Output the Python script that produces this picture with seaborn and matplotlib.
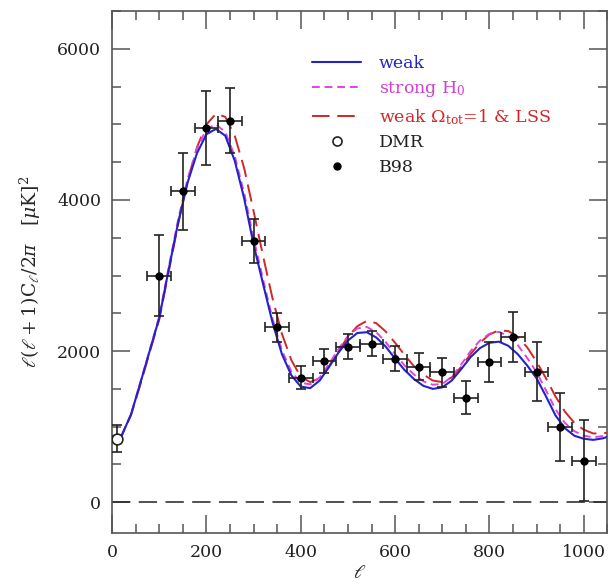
import matplotlib
matplotlib.use("Agg")
import matplotlib.pyplot as plt
from matplotlib.ticker import MultipleLocator
from matplotlib.lines import Line2D
import pandas as pd
import seaborn as sns

# Model power spectra, l(l+1)C_l/2pi in muK^2
ell_model = [2, 10, 20, 40, 60, 80, 100, 120, 140, 160, 180, 200, 220, 240, 260, 280, 300,
             320, 340, 360, 380, 400, 420, 440, 460, 480, 500, 520, 540, 560, 580, 600,
             620, 640, 660, 680, 700, 720, 740, 760, 780, 800, 820, 840, 860, 880, 900,
             920, 940, 960, 980, 1000, 1020, 1040, 1050]
weak = [880, 840, 880, 1160, 1580, 2010, 2440, 3080, 3700, 4230, 4620, 4870, 4940, 4850,
        4520, 4020, 3410, 2890, 2380, 1960, 1680, 1530, 1510, 1610, 1790, 1980, 2140, 2240,
        2250, 2180, 2060, 1900, 1750, 1630, 1540, 1500, 1520, 1610, 1760, 1920, 2040, 2110,
        2125, 2070, 1960, 1810, 1640, 1400, 1150, 980, 880, 840, 825, 845, 865]
strong_h0 = [880, 840, 880, 1165, 1590, 2020, 2460, 3110, 3740, 4280, 4680, 4940, 5000,
             4900, 4580, 4090, 3490, 2950, 2430, 2010, 1730, 1580, 1560, 1650, 1830, 2030,
             2200, 2300, 2320, 2250, 2120, 1960, 1810, 1690, 1600, 1555, 1565, 1660, 1820,
             2000, 2140, 2230, 2255, 2200, 2080, 1910, 1720, 1480, 1230, 1050, 940, 880, 860,
             875, 890]
weak_flat_lss = [880, 840, 875, 1150, 1560, 1990, 2420, 3050, 3680, 4250, 4700, 5000, 5140,
                 5100, 4850, 4420, 3850, 3260, 2700, 2230, 1880, 1660, 1590, 1640, 1800,
                 2000, 2190, 2330, 2400, 2370, 2260, 2110, 1950, 1800, 1690, 1610, 1590,
                 1650, 1790, 1960, 2110, 2220, 2275, 2265, 2190, 2050, 1860, 1640, 1400,
                 1200, 1050, 960, 910, 910, 920]

# COBE DMR
dmr_ell = [10]
dmr_val = [840]
dmr_err = [180]

# BOOMERanG 98 band powers
b98_ell = [100, 150, 200, 250, 300, 350, 400, 450, 500, 550, 600, 650, 700, 750, 800,
           850, 900, 950, 1000]
b98_val = [3000, 4115, 4950, 5050, 3460, 2315, 1650, 1870, 2060, 2100, 1900, 1795, 1720,
           1385, 1855, 2185, 1725, 995, 550]
b98_err = [530, 510, 490, 430, 290, 195, 155, 155, 170, 170, 168, 180, 190, 215, 270,
           335, 390, 450, 540]
b98_half_width = 25

sns.set_theme(style="ticks")
plt.rcParams["font.family"] = ["DejaVu Serif", "DejaVu Sans"]
plt.rcParams["mathtext.fontset"] = "dejavuserif"

blue = "#2323c8"
magenta = "#e044e0"
red = "#d02828"
frame = "#555555"

fig = plt.figure(figsize=(6.11, 5.84), dpi=100)
ax = fig.add_axes([0.1835, 0.087, 0.8105, 0.894])

models = pd.DataFrame({"ell": ell_model, "weak": weak, "strong": strong_h0,
                       "flat": weak_flat_lss})

ax.axhline(0, color="#222222", lw=1.1, dashes=(12, 5.5), zorder=1)

sns.lineplot(data=models, x="ell", y="flat", ax=ax, color=red, lw=1.4, zorder=3)
ax.lines[-1].set_dashes((9, 4))
sns.lineplot(data=models, x="ell", y="strong", ax=ax, color=magenta, lw=1.4, zorder=4)
ax.lines[-1].set_dashes((4, 2.5))
sns.lineplot(data=models, x="ell", y="weak", ax=ax, color=blue, lw=1.5, zorder=5)

ax.errorbar(b98_ell, b98_val, yerr=b98_err, xerr=b98_half_width, fmt="none",
            ecolor="#222222", elinewidth=1.2, capsize=3.5, capthick=1.2, zorder=6)
ax.errorbar(dmr_ell, dmr_val, yerr=dmr_err, fmt="none", ecolor="#222222",
            elinewidth=1.2, capsize=3.5, capthick=1.2, zorder=6)
sns.scatterplot(x=b98_ell, y=b98_val, ax=ax, color="black", s=36, edgecolor="black",
                linewidth=0, zorder=7)
ax.scatter(dmr_ell, dmr_val, s=60, facecolor="white", edgecolor="#222222",
           linewidth=1.2, zorder=7)

ax.set_xlim(0, 1050)
ax.set_ylim(-410, 6500)
ax.xaxis.set_major_locator(MultipleLocator(200))
ax.xaxis.set_minor_locator(MultipleLocator(50))
ax.yaxis.set_major_locator(MultipleLocator(2000))
ax.yaxis.set_minor_locator(MultipleLocator(500))
ax.tick_params(which="both", direction="in", top=True, right=True, color=frame,
               labelsize=12.5, labelcolor="#222222", width=1.1)
ax.tick_params(axis="x", which="major", length=13, pad=8)
ax.tick_params(axis="y", which="major", length=13, pad=8)
ax.tick_params(which="minor", length=6.5)
for sp in ax.spines.values():
    sp.set_color(frame)
    sp.set_linewidth(1.2)

ax.set_xlabel(r"$\ell$", fontsize=14, labelpad=2)
ax.set_ylabel(r"$\ell(\ell+1)\mathrm{C}_\ell/2\pi\ \ \ [\mu\mathrm{K}]^2$", fontsize=13.5,
              labelpad=10)

handles = [
    Line2D([], [], color=blue, lw=1.5),
    Line2D([], [], color=magenta, lw=1.4, dashes=(4, 2.5)),
    Line2D([], [], color=red, lw=1.4, dashes=(9, 4)),
    Line2D([], [], ls="none", marker="o", ms=6.5, mfc="white", mec="#222222", mew=1.2),
    Line2D([], [], ls="none", marker="o", ms=5, mfc="black", mec="black"),
]
labels = ["weak", r"strong H$_0$", r"weak $\Omega_{\mathrm{tot}}$=1 & LSS", "DMR", "B98"]
leg = ax.legend(handles, labels, loc="upper left", bbox_to_anchor=(0.39, 0.93),
                frameon=False, fontsize=12.5, handlelength=2.8, handletextpad=1.05,
                labelspacing=0.44, borderaxespad=0)
for txt, col in zip(leg.get_texts(), [blue, "#d040d0", red, "#222222", "#222222"]):
    txt.set_color(col)

fig.savefig("out.png", dpi=100)
